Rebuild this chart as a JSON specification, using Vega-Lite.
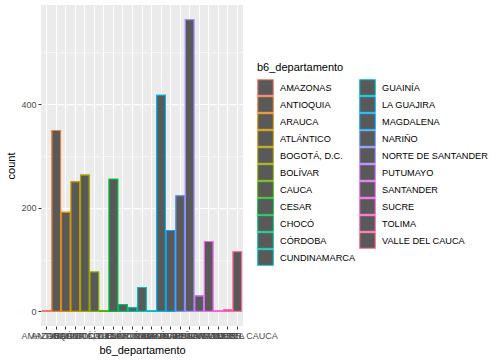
{
  "$schema": "https://vega.github.io/schema/vega-lite/v6.json",
  "width": 202,
  "height": 321,
  "padding": {"left": 5, "top": 5, "right": 5, "bottom": 5},
  "background": "white",
  "config": {
    "font": "Liberation Sans",
    "view": {"fill": "#EBEBEB", "stroke": null}
  },
  "data": {
    "values": [
      {"b6_departamento": "AMAZONAS", "count": 1},
      {"b6_departamento": "ANTIOQUIA", "count": 349},
      {"b6_departamento": "ARAUCA", "count": 191},
      {"b6_departamento": "ATLÁNTICO", "count": 250},
      {"b6_departamento": "BOGOTÁ, D.C.", "count": 263},
      {"b6_departamento": "BOLÍVAR", "count": 76},
      {"b6_departamento": "CAUCA", "count": 1},
      {"b6_departamento": "CESAR", "count": 255},
      {"b6_departamento": "CHOCÓ", "count": 13},
      {"b6_departamento": "CÓRDOBA", "count": 7},
      {"b6_departamento": "CUNDINAMARCA", "count": 46},
      {"b6_departamento": "GUAINÍA", "count": 1},
      {"b6_departamento": "LA GUAJIRA", "count": 417},
      {"b6_departamento": "MAGDALENA", "count": 156},
      {"b6_departamento": "NARIÑO", "count": 223},
      {"b6_departamento": "NORTE DE SANTANDER", "count": 563},
      {"b6_departamento": "PUTUMAYO", "count": 30},
      {"b6_departamento": "SANTANDER", "count": 135},
      {"b6_departamento": "SUCRE", "count": 1},
      {"b6_departamento": "TOLIMA", "count": 3},
      {"b6_departamento": "VALLE DEL CAUCA", "count": 115}
    ]
  },
  "resolve": {"axis": {"y": "independent"}},
  "layer": [
    {
      "mark": {"type": "bar", "fill": "#595959", "strokeWidth": 1.1},
      "encoding": {
        "x": {
          "field": "b6_departamento", "type": "nominal",
          "sort": ["AMAZONAS","ANTIOQUIA","ARAUCA","ATLÁNTICO","BOGOTÁ, D.C.","BOLÍVAR","CAUCA","CESAR","CHOCÓ","CÓRDOBA","CUNDINAMARCA","GUAINÍA","LA GUAJIRA","MAGDALENA","NARIÑO","NORTE DE SANTANDER","PUTUMAYO","SANTANDER","SUCRE","TOLIMA","VALLE DEL CAUCA"],
          "scale": {"paddingInner": 0.1, "paddingOuter": 0.15},
          "axis": {
            "title": "b6_departamento", "titleFontSize": 11, "titleFontWeight": "normal", "titleColor": "black", "titlePadding": 4,
            "labelAngle": 0, "labelOverlap": false, "labelLimit": 0, "labelFontSize": 9, "labelColor": "#4D4D4D", "labelPadding": 2,
            "tickColor": "#333333", "tickSize": 3, "tickWidth": 1, "domain": false,
            "grid": true, "gridColor": "white", "gridWidth": 1.07, "bandPosition": 0.5
          }
        },
        "y": {
          "field": "count", "type": "quantitative",
          "scale": {"domain": [-28.15, 591.15], "nice": false, "zero": false},
          "axis": {
            "orient": "left",
            "title": null, "labels": false, "ticks": false, "domain": false,
            "values": [100, 300, 500], "grid": true, "gridColor": "white", "gridWidth": 0.55
          }
        },
        "stroke": {
          "field": "b6_departamento", "type": "nominal",
          "scale": {
            "domain": ["AMAZONAS","ANTIOQUIA","ARAUCA","ATLÁNTICO","BOGOTÁ, D.C.","BOLÍVAR","CAUCA","CESAR","CHOCÓ","CÓRDOBA","CUNDINAMARCA","GUAINÍA","LA GUAJIRA","MAGDALENA","NARIÑO","NORTE DE SANTANDER","PUTUMAYO","SANTANDER","SUCRE","TOLIMA","VALLE DEL CAUCA"],
            "range": ["#F8766D","#EB8335","#D98F00","#C49A00","#A9A400","#85AD00","#4CB400","#00BA38","#00BE70","#00C097","#00C0B8","#00BDD4","#00B4EF","#00A9FF","#619CFF","#A58AFF","#CF78FF","#EB69F0","#FB61D7","#FF63B9","#FF6B94"]
          },
          "legend": {
            "orient": "none", "legendX": 216, "legendY": 57,
            "title": "b6_departamento", "titleFontSize": 11, "titleFontWeight": "normal", "titleColor": "black", "titlePadding": 6,
            "columns": 2, "columnPadding": 3, "rowPadding": 0, "clipHeight": 17,
            "symbolType": "square", "symbolSize": 240, "symbolFillColor": "#595959", "symbolStrokeWidth": 1.1, "symbolOpacity": 1,
            "labelFontSize": 9.2, "labelColor": "black", "labelOffset": 6, "labelLimit": 0
          }
        }
      }
    },
    {
      "mark": {"type": "bar", "fill": "#595959", "strokeWidth": 1.1},
      "encoding": {
        "x": {
          "field": "b6_departamento", "type": "nominal",
          "sort": ["AMAZONAS","ANTIOQUIA","ARAUCA","ATLÁNTICO","BOGOTÁ, D.C.","BOLÍVAR","CAUCA","CESAR","CHOCÓ","CÓRDOBA","CUNDINAMARCA","GUAINÍA","LA GUAJIRA","MAGDALENA","NARIÑO","NORTE DE SANTANDER","PUTUMAYO","SANTANDER","SUCRE","TOLIMA","VALLE DEL CAUCA"]
        },
        "y": {
          "field": "count", "type": "quantitative",
          "axis": {
            "orient": "left",
            "title": "count", "titleFontSize": 11, "titleFontWeight": "normal", "titleColor": "black", "titlePadding": 4,
            "values": [0, 200, 400], "labelFontSize": 9, "labelColor": "#4D4D4D", "labelPadding": 2,
            "tickColor": "#333333", "tickSize": 3, "domain": false,
            "grid": true, "gridColor": "white", "gridWidth": 1.07
          }
        },
        "stroke": {"field": "b6_departamento", "type": "nominal"}
      }
    }
  ]
}
